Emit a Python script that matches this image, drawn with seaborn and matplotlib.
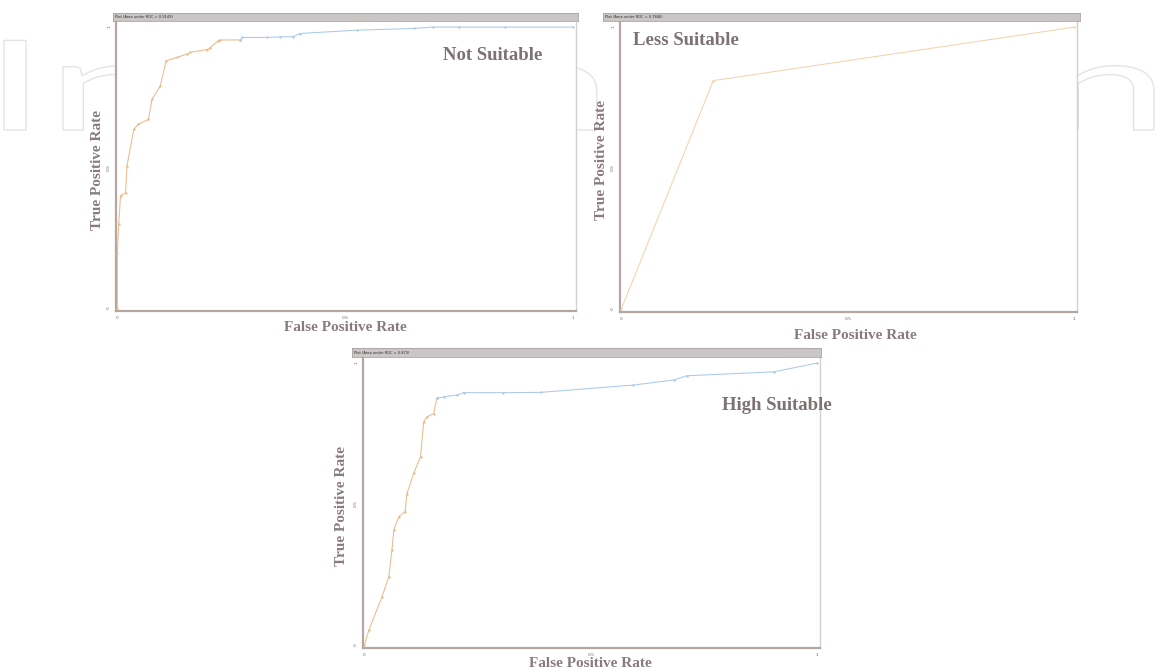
import matplotlib
matplotlib.use("Agg")
import matplotlib.pyplot as plt
import seaborn as sns
import pandas as pd
from matplotlib.textpath import TextPath
from matplotlib.patches import PathPatch
from matplotlib.font_manager import FontProperties
from matplotlib.transforms import Affine2D, IdentityTransform

# ROC curves (false positive rate, true positive rate) for each suitability class
not_suitable_fpr = [0.0, 0.0, 0.003, 0.007, 0.018, 0.021, 0.036, 0.046, 0.068, 0.076,
                    0.094, 0.107, 0.131, 0.153, 0.16, 0.197, 0.204, 0.221, 0.226, 0.27,
                    0.273, 0.328, 0.357, 0.386, 0.40, 0.526, 0.65, 0.693, 0.75, 0.85, 1.0]
not_suitable_tpr = [0.0, 0.196, 0.30, 0.40, 0.41, 0.505, 0.636, 0.654, 0.671, 0.743,
                    0.79, 0.88, 0.892, 0.904, 0.91, 0.92, 0.927, 0.951, 0.954, 0.954,
                    0.963, 0.963, 0.965, 0.966, 0.977, 0.989, 0.995, 1.0, 1.0, 1.0, 1.0]

less_suitable_fpr = [0.0, 0.203, 1.0]
less_suitable_tpr = [0.0, 0.81, 1.0]

high_suitable_fpr = [0.0, 0.01, 0.039, 0.054, 0.061, 0.065, 0.076, 0.09, 0.094, 0.109,
                     0.124, 0.131, 0.138, 0.153, 0.16, 0.175, 0.205, 0.219, 0.307, 0.389,
                     0.594, 0.683, 0.712, 0.904, 1.0]
high_suitable_tpr = [0.0, 0.053, 0.171, 0.242, 0.337, 0.408, 0.455, 0.473, 0.537, 0.609,
                     0.668, 0.792, 0.809, 0.821, 0.875, 0.88, 0.887, 0.895, 0.895, 0.896,
                     0.922, 0.94, 0.955, 0.969, 1.0]

panel_names = ["Not Suitable", "Less Suitable", "High Suitable"]
panel_titles = ["Plot (Area under ROC = 0.9149)",
                "Plot (Area under ROC = 0.7846)",
                "Plot (Area under ROC = 0.873)"]
tick_values = [0, 0.5, 1]
tick_labels = ["0", "0.5", "1"]
x_label = "False Positive Rate"
y_label = "True Positive Rate"

sns.set_theme(style="white")
plt.rcParams["font.family"] = ["DejaVu Sans"]

W, H = 1161, 671
fig = plt.figure(figsize=(W / 100, H / 100), dpi=100)
fig.patch.set_facecolor("white")


def px_box(x0, y0, x1, y1):
    return [x0 / W, 1 - y1 / H, (x1 - x0) / W, (y1 - y0) / H]


# faint outlined watermark behind the panels
wm_font = FontProperties(family="Lato", weight="normal")
wm_path = TextPath((0, 0), "IntechOpen", size=100, prop=wm_font)
ext = wm_path.get_extents()
sx = 1150 / ext.width
sy = 90 / 72.0
wm_tr = Affine2D().translate(-ext.x0, 0).scale(sx, sy).translate(4, H - 130)
wm = PathPatch(wm_tr.transform_path(wm_path), facecolor="none", edgecolor="#e6e3e3",
               linewidth=1.0, transform=IdentityTransform(), zorder=-5)
fig.patches.append(wm)

ORANGE = "#e9bb8a"
LIGHT_ORANGE = "#f2d3ae"
BLUE = "#aacaea"
LABEL_COLOR = "#887c7b"
NAME_COLOR = "#7d7272"
SERIF = ["Liberation Serif", "DejaVu Serif"]

panels = [
    dict(fpr=not_suitable_fpr, tpr=not_suitable_tpr, cut=0.27, base=ORANGE,
         ax=(116, 22, 576, 311), bar=(113, 13, 578, 21),
         name_xy=(0.715, 0.90), xl=(0.498, -0.058), yl=(-0.040, 0.488)),
    dict(fpr=less_suitable_fpr, tpr=less_suitable_tpr, cut=None, base=LIGHT_ORANGE,
         ax=(620, 22, 1077, 312), bar=(603, 13, 1080, 21),
         name_xy=(0.026, 0.954), xl=(0.514, -0.082), yl=(-0.040, 0.524)),
    dict(fpr=high_suitable_fpr, tpr=high_suitable_tpr, cut=0.16, base=ORANGE,
         ax=(363, 358, 820, 648), bar=(352, 348, 821, 357),
         name_xy=(0.79, 0.851), xl=(0.497, -0.052), yl=(-0.047, 0.49)),
]

for name, title, p in zip(panel_names, panel_titles, panels):
    ax = fig.add_axes(px_box(*p["ax"]))
    ax.set_facecolor("white")
    df = pd.DataFrame({"fpr": p["fpr"], "tpr": p["tpr"]})
    if p["cut"] is None:
        parts = [(df, p["base"])]
    else:
        low = df[df["fpr"] <= p["cut"]]
        high = df[df["fpr"] >= low["fpr"].max()]
        parts = [(low, p["base"]), (high, BLUE)]
    for part, color in parts:
        sns.lineplot(data=part, x="fpr", y="tpr", ax=ax, color=color, linewidth=0.75,
                     sort=False, estimator=None, marker="o", markersize=1.7,
                     markeredgewidth=0, zorder=3)

    ax.set_xlim(-0.003, 1.006)
    ax.set_ylim(-0.011, 1.018)
    ax.set_xticks(tick_values)
    ax.set_xticklabels(tick_labels)
    ax.set_yticks(tick_values)
    ax.set_yticklabels(tick_labels, rotation=90, va="center")
    ax.tick_params(axis="both", labelsize=3.2, labelcolor="#6f6767", length=1.5,
                   width=0.6, color="#b5aaa7", pad=2)

    for side in ("left", "bottom"):
        ax.spines[side].set_visible(True)
        ax.spines[side].set_color("#b3a6a3")
        ax.spines[side].set_linewidth(1.6)
    ax.spines["right"].set_visible(True)
    ax.spines["right"].set_color("#d6cfcf")
    ax.spines["right"].set_linewidth(1.0)
    ax.spines["top"].set_visible(False)

    ax.set_xlabel(x_label, fontfamily=SERIF, fontweight="bold", fontsize=11,
                  color=LABEL_COLOR)
    ax.set_ylabel(y_label, fontfamily=SERIF, fontweight="bold", fontsize=11,
                  color=LABEL_COLOR)
    ax.xaxis.set_label_coords(*p["xl"])
    ax.yaxis.set_label_coords(*p["yl"])
    ax.xaxis.label.set_va("center")
    ax.yaxis.label.set_va("center")
    ax.yaxis.label.set_ha("center")

    ax.text(p["name_xy"][0], p["name_xy"][1], name, fontfamily=SERIF,
            fontweight="bold", fontsize=13.5, color=NAME_COLOR,
            ha="left", va="center", zorder=4)

    # grey title bar above the plot area
    bar = fig.add_axes(px_box(*p["bar"]))
    bar.set_facecolor("#cbc6c6")
    bar.set_xticks([])
    bar.set_yticks([])
    for s in bar.spines.values():
        s.set_color("#aaa3a3")
        s.set_linewidth(0.6)
    bar.text(0.004, 0.5, title, fontsize=2.6, color="#2b2b2b",
             ha="left", va="center", transform=bar.transAxes)

fig.savefig("out.png", dpi=100, facecolor="white")
